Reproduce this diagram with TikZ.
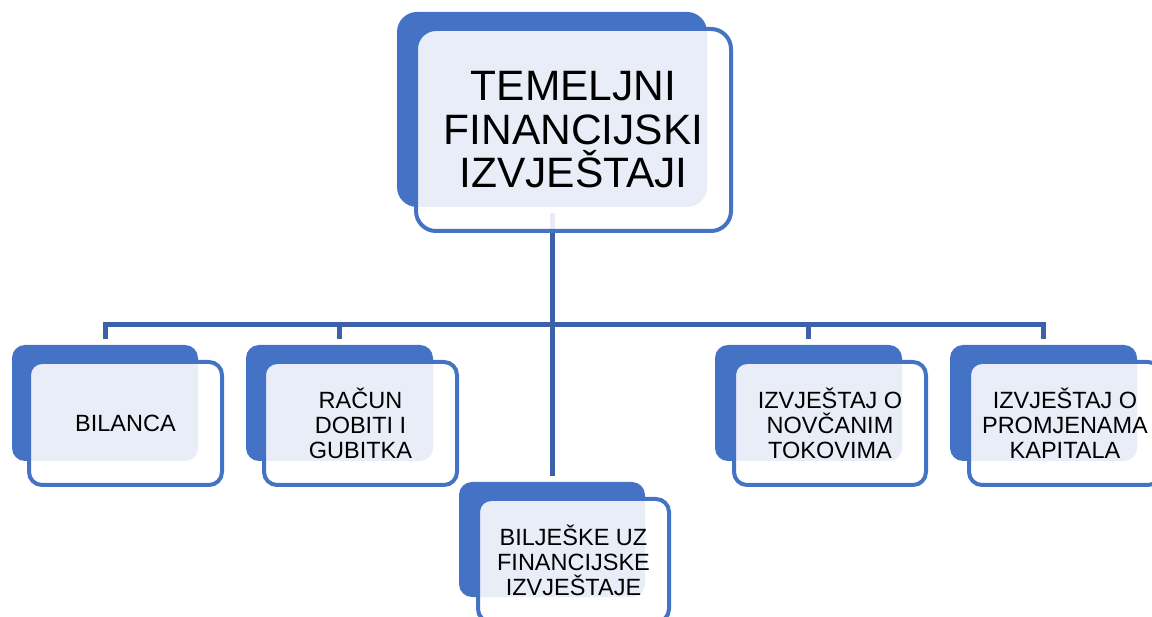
\documentclass[tikz,border=0pt]{standalone}
\usepackage{fontspec}
\setmainfont{Liberation Sans}
\definecolor{boxblue}{HTML}{4472C4}
\definecolor{connblue}{HTML}{3D61A8}
\tikzset{
  backbox/.style={fill=boxblue, draw=none, rounded corners=13pt, anchor=north west, inner sep=0pt, outer sep=0pt},
  frontbox/.style={fill=white, fill opacity=0.88, text opacity=1, draw=boxblue, line width=4pt, rounded corners=13pt, anchor=north west, inner sep=0pt, outer sep=0pt, align=center, font=\fontsize{23.5}{25.2}\selectfont},
  conn/.style={draw=connblue, line width=5pt},
}
\begin{document}
\begin{tikzpicture}[x=1pt,y=-1pt]
\useasboundingbox (0,0) rectangle (1152,617);
\coordinate (bar) at (0,324.5);
% back boxes
\node[backbox, rounded corners=20pt, minimum width=310pt, minimum height=195pt] (b0) at (397,12) {};
\node[backbox, minimum width=186pt, minimum height=116pt] (b1) at (12,345) {};
\node[backbox, minimum width=187pt, minimum height=116pt] (b2) at (246,345) {};
\node[backbox, minimum width=187pt, minimum height=116pt] (b3) at (715,345) {};
\node[backbox, minimum width=187pt, minimum height=116pt] (b4) at (950,345) {};
\node[backbox, minimum width=186pt, minimum height=115pt] (b5) at (459,482) {};
% connectors
\draw[conn] ([yshift=-6pt]b0.south) -- ([yshift=6pt]b5.north);
\draw[conn] ([yshift=6pt]b1.north) |- (bar -| b4.north) -- ([yshift=6pt]b4.north);
\draw[conn] (bar -| b2.north) -- ([yshift=6pt]b2.north);
\draw[conn] (bar -| b3.north) -- ([yshift=6pt]b3.north);
% front boxes
\node[frontbox, rounded corners=20pt, minimum width=315pt, minimum height=202pt, font=\fontsize{42.5}{43.5}\selectfont] (f0) at (416,29) {TEMELJNI\\FINANCIJSKI\\IZVJEŠTAJI};
\node[frontbox, minimum width=193pt, minimum height=123pt, font=\fontsize{23.5}{26}\selectfont] (f1) at (29,362) {BILANCA};
\node[frontbox, minimum width=193pt, minimum height=123pt] (f2) at (264,362) {RAČUN\\DOBITI I\\GUBITKA};
\node[frontbox, minimum width=192pt, minimum height=123pt] (f3) at (734,362) {IZVJEŠTAJ O\\NOVČANIM\\TOKOVIMA};
\node[frontbox, minimum width=192pt, minimum height=123pt] (f4) at (969,362) {IZVJEŠTAJ O\\PROMJENAMA\\KAPITALA};
\node[frontbox, minimum width=191pt, minimum height=123pt] (f5) at (478,499) {BILJEŠKE UZ\\FINANCIJSKE\\IZVJEŠTAJE};
\end{tikzpicture}
\end{document}
